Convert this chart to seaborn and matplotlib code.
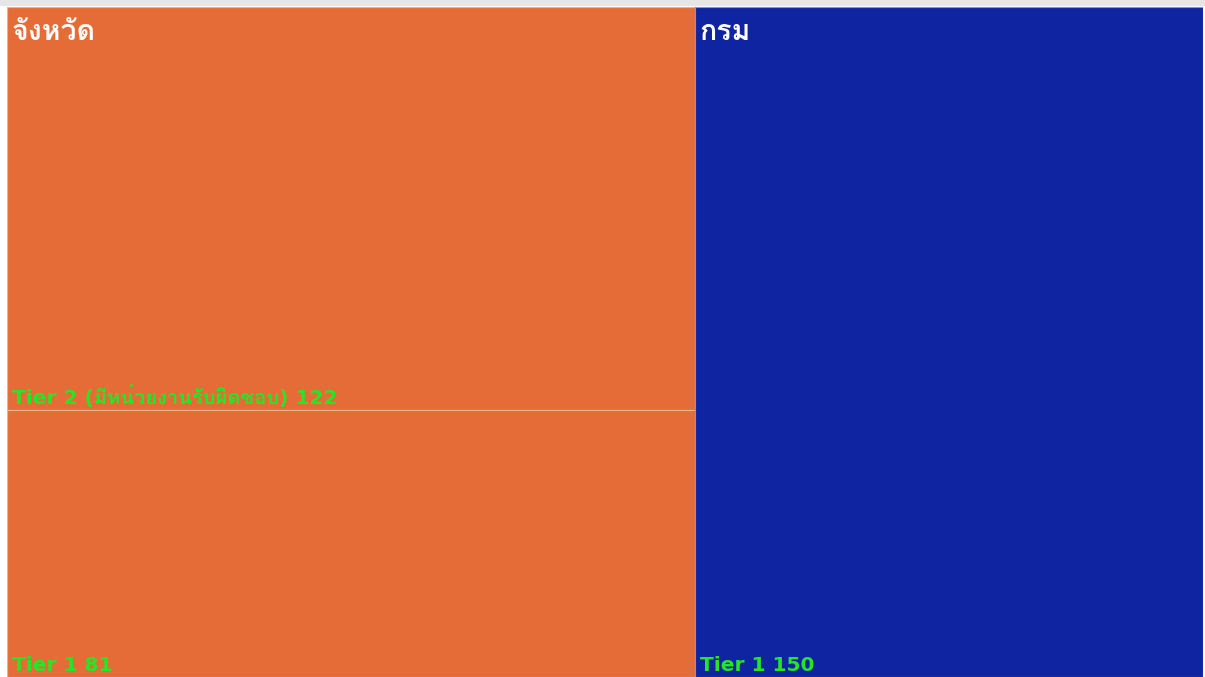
import matplotlib
matplotlib.use("Agg")
import matplotlib.pyplot as plt
import seaborn as sns
import numpy as np

# treemap data: group -> tiers (top to bottom)
groups = ["จังหวัด", "กรม"]
tier_names = [["Tier 2 (มีหน่วยงานรับผิดชอบ)", "Tier 1"], ["Tier 1"]]
tier_values = [[122, 81], [150]]
group_colors = ["#E66C37", "#0F24A0"]

sns.set_theme(style="white")
thai = ["Loma", "IBM Plex Sans Thai Looped", "Noto Sans Thai", "DejaVu Sans"]
latin_first = ["DejaVu Sans", "Loma", "Noto Sans Thai"]
plt.rcParams["font.family"] = thai

W, H = 1205, 677
fig = plt.figure(figsize=(W / 100, H / 100), dpi=100)
fig.patch.set_facecolor("white")
# thin grey strip on top
fig.patches.append(plt.Rectangle((0, 1 - 5 / H), 1, 5 / H, transform=fig.transFigure,
                                 color="#E6E6E6", zorder=0))
ax = fig.add_axes([7 / W, 0, 1196 / W, 670 / H])

group_totals = [sum(v) for v in tier_values]
total = sum(group_totals)
lefts = np.cumsum([0] + group_totals[:-1])

for g, name in enumerate(groups):
    vals = tier_values[g]
    gsum = group_totals[g]
    # stack from the bottom: last tier sits lowest
    bottoms = np.cumsum([0] + [v / gsum for v in vals[::-1]][:-1])[::-1]
    heights = [v / gsum for v in vals]
    ax.bar(x=[lefts[g]] * len(vals), height=heights, width=gsum, bottom=bottoms,
           align="edge", color=group_colors[g], edgecolor="#F0B090" if g == 0 else "#8890D0",
           linewidth=0.8)
    for tname, val, b, h in zip(tier_names[g], vals, bottoms, heights):
        ax.annotate(f"{tname} {val}", xy=(lefts[g], b), xytext=(3.5, 1.5),
                    textcoords="offset points", ha="left", va="bottom",
                    color="#25E625", fontsize=14.5, fontweight="bold", family=latin_first)
    ax.annotate(name, xy=(lefts[g], 1), xytext=(3.5, -9), textcoords="offset points",
                ha="left", va="top", color="white", fontsize=20.5, fontweight="bold")

ax.set_xlim(0, total)
ax.set_ylim(0, 1)
ax.set_axis_off()

fig.savefig("out.png", dpi=100)
